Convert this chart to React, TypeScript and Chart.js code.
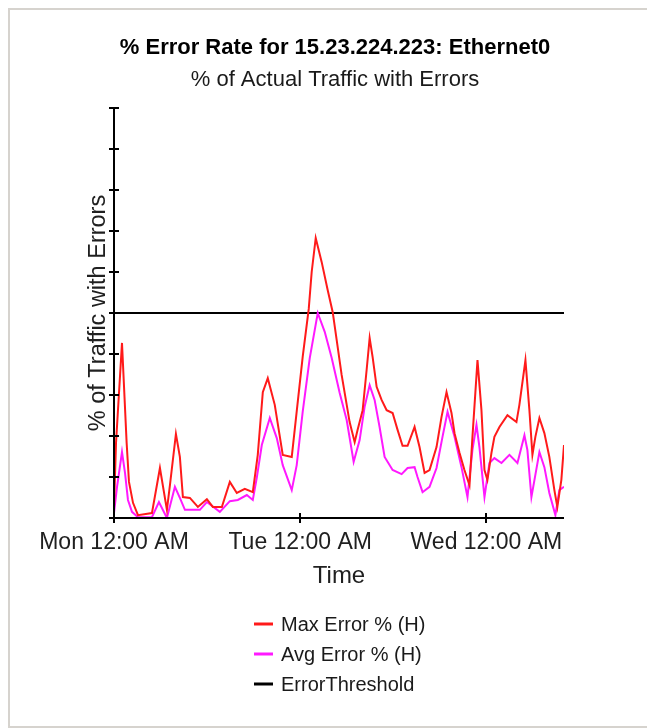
import React, { useEffect, useRef } from "react";
import { Chart, registerables } from "chart.js";

Chart.register(...registerables);

const chartTitle = "% Error Rate for 15.23.224.223: Ethernet0";
const chartSubtitle = "% of Actual Traffic with Errors";
const yAxisTitle = "% of Traffic with Errors";
const xAxisTitle = "Time";

const tickHours = [0, 24, 48];
const tickLabels = ["Mon 12:00 AM", "Tue 12:00 AM", "Wed 12:00 AM"];
const xMaxHours = 58;
const yMin = 0;
const yMax = 10;
const yStep = 1;

const maxLabel = "Max Error % (H)";
const maxHours = [
  0, 0.26, 1.03, 1.63, 1.93, 2.45, 3.09, 4.89, 5.92, 6.82, 7.21, 7.98, 8.49, 8.88, 9.78, 10.81,
  11.97, 12.74, 13.9, 14.93, 15.83, 16.86, 17.89, 18.53, 19.18, 19.82, 20.72, 21.75, 22.91, 23.55,
  24.32, 25.1, 25.48, 26.0, 26.77, 27.54, 28.19, 29.34, 30.37, 31.02, 31.4, 32.05, 32.56, 32.95,
  33.33, 33.85, 34.49, 35.14, 35.91, 36.55, 37.19, 37.84, 38.74, 39.38, 40.03, 40.67, 41.57, 42.21,
  42.86, 43.5, 43.89, 44.53, 45.17, 45.82, 46.2, 46.85, 47.36, 47.75, 48.13, 48.65, 49.03, 49.68,
  50.71, 51.87, 52.25, 53.03, 53.54, 53.93, 54.31, 54.83, 55.47, 56.11, 56.76, 57.14, 57.66, 58.0,
];
const maxValues = [
  0.24, 1.83, 4.27, 1.83, 0.88, 0.37, 0.07, 0.12, 1.22, 0.2, 0.8, 2.05, 1.49, 0.51, 0.49, 0.27,
  0.46, 0.27, 0.27, 0.88, 0.61, 0.71, 0.63, 1.54, 3.07, 3.41, 2.76, 1.54, 1.49, 2.6,
  3.93, 5.1, 6.0, 6.83, 6.24, 5.56, 5.02, 3.49, 2.34, 1.85, 2.15, 2.63, 3.61, 4.39,
  3.93, 3.2, 2.88, 2.63, 2.56, 2.15, 1.76, 1.76, 2.22, 1.73, 1.1, 1.17, 1.73, 2.46,
  3.07, 2.56, 2.07, 1.59, 1.17, 0.8, 1.98, 3.85, 2.63, 1.17, 0.93, 1.59, 1.98, 2.22,
  2.51, 2.34, 2.76, 3.85, 2.63, 1.54, 1.98, 2.44, 2.07, 1.49, 0.68, 0.27, 0.93, 1.78,
];

const avgLabel = "Avg Error % (H)";
const avgHours = [
  0, 0.39, 1.03, 1.42, 1.8, 2.32, 3.09, 4.89, 5.79, 6.82, 7.85, 8.49, 9.14, 11.07, 11.97, 13.64,
  14.93, 15.96, 17.12, 17.89, 18.4, 19.05, 20.08, 20.98, 21.75, 22.91, 23.55, 24.32, 25.23, 26.26,
  27.16, 28.06, 29.09, 29.99, 30.89, 31.66, 32.3, 32.95, 33.59, 34.23, 34.88, 35.91, 37.07, 37.84,
  38.74, 39.12, 39.77, 40.67, 41.57, 42.34, 42.99, 43.89, 44.79, 45.56, 46.2, 46.72, 47.1, 47.75,
  48.39, 49.03, 49.94, 50.97, 52.0, 52.9, 53.28, 53.8, 54.83, 55.47, 56.11, 56.89, 57.4, 58.0,
];
const avgValues = [
  0.12, 0.76, 1.61, 1.1, 0.44, 0.15, 0.02, 0.02, 0.39, 0.0, 0.76, 0.49, 0.2, 0.2, 0.39, 0.15,
  0.41, 0.44, 0.56, 0.44, 0.98, 1.78, 2.44, 1.95, 1.29, 0.68, 1.29, 2.59, 3.9, 5.0,
  4.54, 3.9, 3.05, 2.39, 1.37, 1.9, 2.71, 3.24, 2.88, 2.22, 1.49, 1.17, 1.07, 1.22,
  1.24, 1.0, 0.63, 0.76, 1.22, 1.98, 2.59, 1.98, 1.24, 0.51, 1.66, 2.27, 1.73, 0.51,
  1.34, 1.46, 1.34, 1.54, 1.34, 2.02, 1.66, 0.51, 1.61, 1.24, 0.61, 0.07, 0.68, 0.76,
];

const thresholdLabel = "ErrorThreshold";
const thresholdHours = [0, 58];
const thresholdValues = [5, 5];

const FONT = "'Liberation Sans', Arial, sans-serif";

const decorPlugin = {
  id: "decor",
  afterDatasetsDraw(chart: any) {
    const { ctx, chartArea, scales } = chart;
    const xs = scales.x;
    const ys = scales.y;
    ctx.save();
    ctx.strokeStyle = "#000";
    ctx.lineWidth = 2;
    const ax = Math.round(chartArea.left);
    const by = Math.round(ys.getPixelForValue(yMin));
    ctx.beginPath();
    ctx.moveTo(ax, Math.round(chartArea.top));
    ctx.lineTo(ax, by);
    ctx.moveTo(ax, by);
    ctx.lineTo(Math.round(chartArea.right), by);
    ys.ticks.forEach((t: any) => {
      const py = Math.round(ys.getPixelForValue(t.value));
      ctx.moveTo(ax - 5, py);
      ctx.lineTo(ax + 5, py);
    });
    xs.ticks.forEach((t: any) => {
      const px = Math.round(xs.getPixelForValue(t.value));
      ctx.moveTo(px, by - 5);
      ctx.lineTo(px, by + 5);
    });
    ctx.stroke();
    ctx.restore();
  },
  afterDraw(chart: any) {
    const { ctx } = chart;
    ctx.save();
    ctx.fillStyle = "#000";
    ctx.textAlign = "center";
    ctx.textBaseline = "middle";
    ctx.font = `bold 22px ${FONT}`;
    ctx.fillText(chartTitle, 325, 38);
    ctx.fillStyle = "#1a1a1a";
    ctx.font = `22px ${FONT}`;
    ctx.fillText(chartSubtitle, 325, 70);

    // legend
    ctx.textAlign = "left";
    ctx.font = `20px ${FONT}`;
    const rowY = [614, 644, 674];
    chart.data.datasets.forEach((ds: any, i: number) => {
      const yy = rowY[i];
      ctx.strokeStyle = ds.borderColor;
      ctx.lineWidth = 3;
      ctx.beginPath();
      ctx.moveTo(244, yy);
      ctx.lineTo(263, yy);
      ctx.stroke();
      ctx.fillStyle = "#1a1a1a";
      ctx.fillText(ds.label, 271, yy + 1);
    });
    ctx.restore();
  },
};

export default function App() {
  const canvasRef = useRef<HTMLCanvasElement | null>(null);

  useEffect(() => {
    document.documentElement.style.overflow = "hidden";
    document.body.style.overflow = "hidden";
    const canvas = canvasRef.current;
    if (!canvas) return;
    const chart = new Chart(canvas, {
      type: "line",
      data: {
        datasets: [
          {
            label: maxLabel,
            data: maxHours.map((h, i) => ({ x: h, y: maxValues[i] })),
            borderColor: "#ff1a1a",
            borderWidth: 2,
            pointRadius: 0,
            tension: 0,
            fill: false,
          },
          {
            label: avgLabel,
            data: avgHours.map((h, i) => ({ x: h, y: avgValues[i] })),
            borderColor: "#ff19ff",
            borderWidth: 2,
            pointRadius: 0,
            tension: 0,
            fill: false,
          },
          {
            label: thresholdLabel,
            data: thresholdHours.map((h, i) => ({ x: h, y: thresholdValues[i] })),
            borderColor: "#000000",
            borderWidth: 2,
            pointRadius: 0,
            tension: 0,
            fill: false,
          },
        ],
      },
      options: {
        animation: false,
        responsive: false,
        devicePixelRatio: 1,
        layout: { padding: { left: 74, right: 83, top: 98, bottom: 128 } },
        plugins: {
          legend: { display: false },
          title: { display: false },
          tooltip: { enabled: false },
        },
        scales: {
          x: {
            type: "linear",
            min: 0,
            max: xMaxHours,
            grid: { display: false, drawTicks: false },
            border: { display: false },
            afterBuildTicks: (scale: any) => {
              scale.ticks = tickHours.map((v) => ({ value: v }));
            },
            afterFit: (scale: any) => {
              scale.height = 80;
              scale.paddingLeft = 0;
              scale.paddingRight = 0;
            },
            ticks: {
              autoSkip: false,
              maxRotation: 0,
              minRotation: 0,
              padding: 11,
              color: "#202020",
              font: { family: FONT, size: 23 },
              callback: (v: any) => {
                const idx = tickHours.indexOf(Number(v));
                return idx >= 0 ? tickLabels[idx] : "";
              },
            },
            title: {
              display: true,
              text: xAxisTitle,
              color: "#202020",
              font: { family: FONT, size: 24 },
              padding: { top: 0, bottom: 7 },
            },
          },
          y: {
            type: "linear",
            min: yMin,
            max: yMax,
            grid: { display: false, drawTicks: false },
            border: { display: false },
            ticks: { display: false, stepSize: yStep },
            afterFit: (scale: any) => {
              scale.width = 30;
            },
            title: {
              display: true,
              text: yAxisTitle,
              color: "#202020",
              font: { family: FONT, size: 23.5 },
              padding: { top: 0, bottom: 0 },
            },
          },
        },
      },
      plugins: [decorPlugin],
    });
    return () => chart.destroy();
  }, []);

  return (
    <div
      style={{
        position: "absolute",
        left: 8,
        top: 8,
        width: 700,
        height: 716,
        borderLeft: "2px solid #d6d3ce",
        borderTop: "2px solid #d6d3ce",
        borderBottom: "2px solid #d6d3ce",
        background: "#fff",
      }}
    >
      <canvas ref={canvasRef} width={637} height={716} style={{ display: "block" }} />
    </div>
  );
}
